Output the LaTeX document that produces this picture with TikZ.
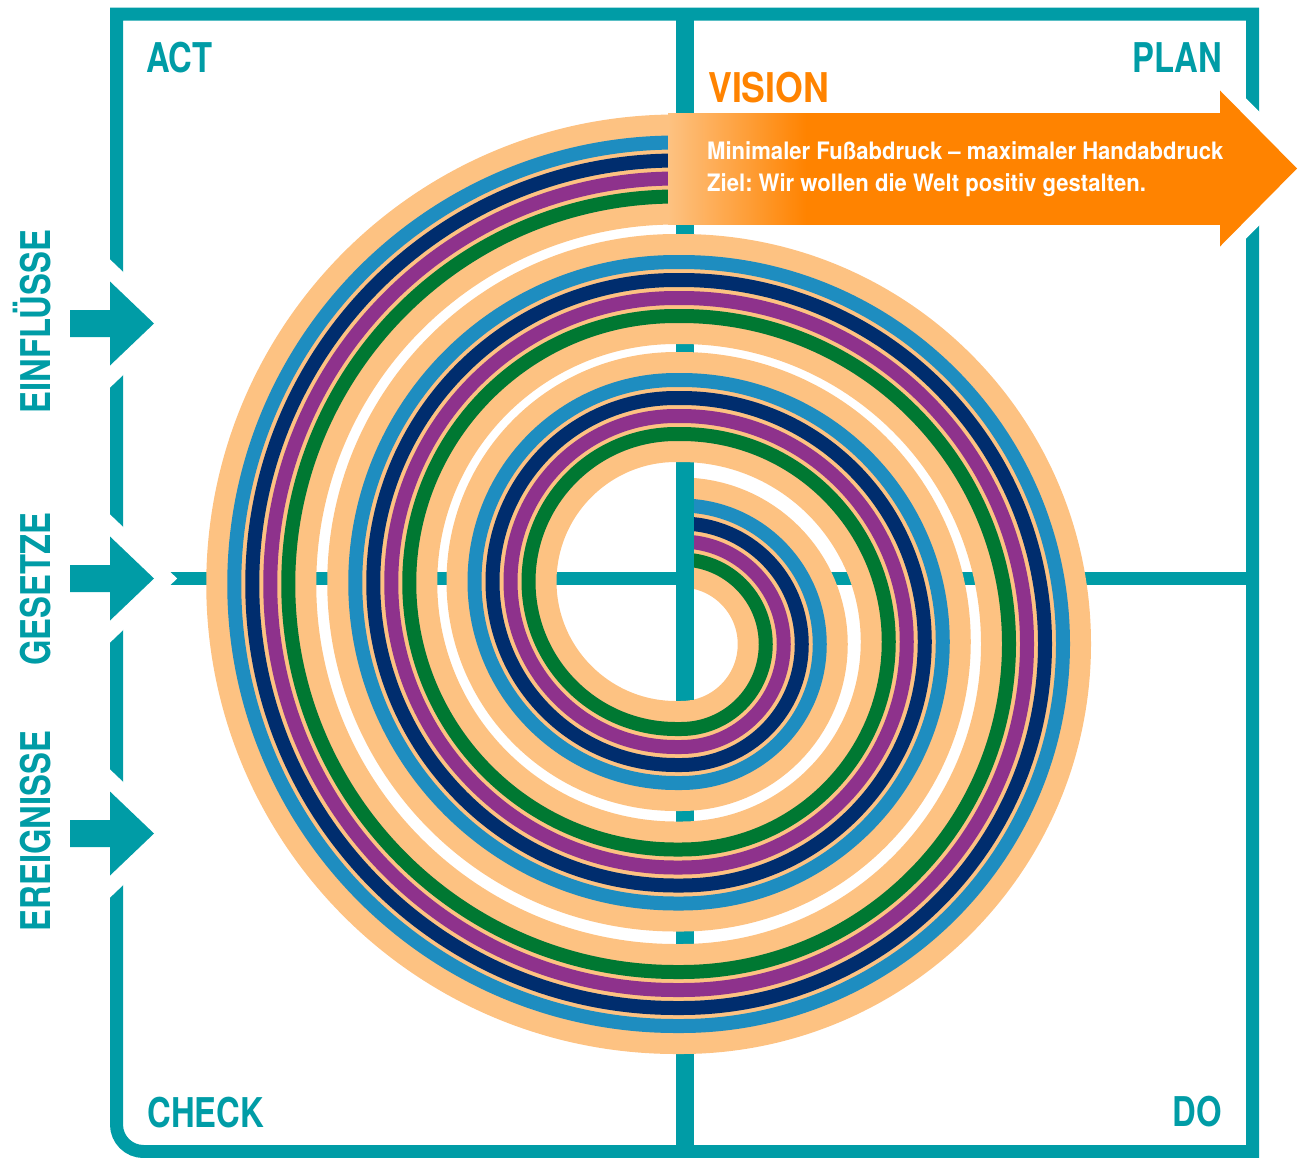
\documentclass[tikz,border=0pt]{standalone}
\usepackage{fontspec}
\setmainfont{TeX Gyre Heros}
\newfontfamily\lblfont[FakeStretch=0.8]{TeX Gyre Heros}
\newfontfamily\visfont[FakeStretch=0.87]{TeX Gyre Heros}
\newfontfamily\arrfont[FakeStretch=0.92]{TeX Gyre Heros}
\frenchspacing
\definecolor{cteal}{RGB}{0,156,166}
\definecolor{peach}{RGB}{253,194,130}
\definecolor{cblue}{RGB}{30,141,192}
\definecolor{cnavy}{RGB}{0,45,110}
\definecolor{cpurple}{RGB}{142,50,140}
\definecolor{cgreen}{RGB}{0,120,50}
\definecolor{corange}{RGB}{255,131,0}
\pgfdeclarehorizontalshading{visshade}{100bp}{color(0bp)=(peach); color(25bp)=(peach); color(37.5bp)=(corange); color(100bp)=(corange)}
\tikzset{
  lbl/.style={font=\lblfont\bfseries\fontsize{41pt}{41pt}\selectfont, text=cteal, inner sep=0pt},
  vislbl/.style={font=\visfont\bfseries\fontsize{41pt}{41pt}\selectfont, text=corange, inner sep=0pt},
  arrtxt/.style={font=\arrfont\bfseries\fontsize{24pt}{24pt}\selectfont\frenchspacing, text=white, inner sep=0pt, anchor=base west},
  band/.style={draw=peach, line width=110pt},
  stripe/.style={draw=#1, line width=14pt},
  frameline/.style={draw=cteal, line width=13pt, line join=miter},
  halo/.style={draw=white, line width=#1, line join=miter, miter limit=10},
}
% spiral centre line, offset #1 outwards
\def\spiralpath#1{%
  (676,{-169.5+(#1)}) arc[start angle=90,end angle=270,radius={414.75+(#1)}]
  -- (681,{-999-(#1)}) arc[start angle=-90,end angle=90,radius={355+(#1)}]
  -- (676,{-289+(#1)}) arc[start angle=90,end angle=270,radius={293.75+(#1)}]
  -- (681,{-876.5-(#1)}) arc[start angle=-90,end angle=90,radius={234.75+(#1)}]
  -- (676,{-407+(#1)}) arc[start angle=90,end angle=270,radius={174.5+(#1)}]
  -- (681,{-756-(#1)}) arc[start angle=-90,end angle=90,radius={111.75+(#1)}]}
\newcommand\inarrowat[1]{%
  \draw[halo=32pt] (95,{#1+56.3}) -- (154,#1) -- (95,{#1-56.3});
  \fill[cteal] (70,{#1+13.5}) -- (110,{#1+13.5}) -- (110,{#1+42}) -- (154,#1)
     -- (110,{#1-42}) -- (110,{#1-13.5}) -- (70,{#1-13.5}) -- cycle;}
\begin{document}
\begin{tikzpicture}[x=1pt,y=1pt]
\useasboundingbox (0,0) rectangle (1303,-1157);
% frame and cross
\draw[frameline] (116.5,-14) -- (1252.5,-14) -- (1252.5,-1151.5) -- (143.5,-1151.5)
   arc[start angle=270,end angle=180,radius=27] -- cycle;
\draw[cteal, line width=13pt] (116.5,-578.5) -- (1252.5,-578.5);
\draw[cteal, line width=18pt] (685,-14) -- (685,-1151.5);
% spiral
\draw[band] \spiralpath{0};
\draw[stripe=cblue] \spiralpath{27};
\draw[stripe=cnavy] \spiralpath{9};
\draw[stripe=cpurple] \spiralpath{-9};
\draw[stripe=cgreen] \spiralpath{-27};
\draw[cteal, line width=18pt] (685,-462.5) -- (685,-700);
% vision arrow
\draw[halo=26pt] (1209.5,-79.8) -- (1297,-168.5) -- (1209.5,-257.2);
\fill[corange] (1210,-113) -- (1220,-113) -- (1220,-90.5) -- (1297,-168.5)
   -- (1220,-246.5) -- (1220,-224) -- (1210,-224) -- cycle;
\shade[shading=visshade] (668,-113) rectangle (1221,-224);
% input arrows
\inarrowat{-323.5}
\inarrowat{-578.5}
\inarrowat{-833.5}
% texts
\node[lbl, anchor=base west] (act) at (146,-72) {ACT};
\node[lbl, anchor=base east] (plan) at (1222,-72) {PLAN};
\node[lbl, anchor=base west] (check) at (147,-1127) {CHECK};
\node[lbl, anchor=base east] (do) at (1222,-1126.5) {DO};
\node[vislbl, anchor=base west] (vision) at (708,-102) {VISION};
\node[arrtxt] (line1) at (707,-159) {Minimaler Fußabdruck – maximaler Handabdruck};
\node[arrtxt] (line2) at (707,-191) {Ziel: Wir wollen die Welt positiv gestalten.};
\node[lbl, rotate=90, anchor=base] (einfl) at (50.7,-321.7) {EINFLÜSSE};
\node[lbl, rotate=90, anchor=base] (gesetze) at (50.7,-589) {GESETZE};
\node[lbl, rotate=90, anchor=base] (ereig) at (50.7,-831) {EREIGNISSE};
\end{tikzpicture}
\end{document}
